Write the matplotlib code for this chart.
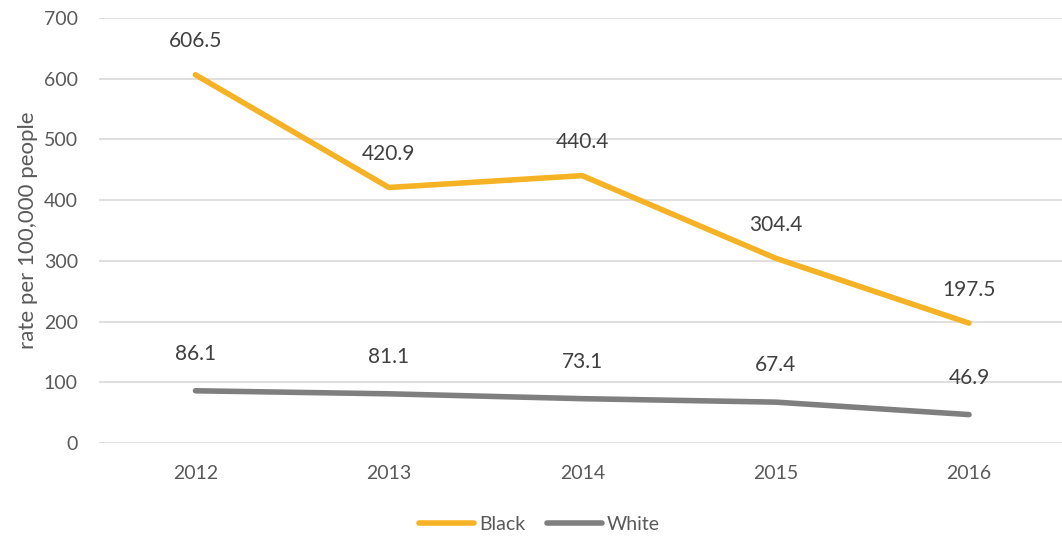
import matplotlib
matplotlib.use("Agg")
import matplotlib.pyplot as plt

years = ["2012", "2013", "2014", "2015", "2016"]
black = [606.5, 420.9, 440.4, 304.4, 197.5]
white = [86.1, 81.1, 73.1, 67.4, 46.9]
black_labels = ["606.5", "420.9", "440.4", "304.4", "197.5"]
white_labels = ["86.1", "81.1", "73.1", "67.4", "46.9"]

plt.rcParams['font.family'] = ['Lato', 'DejaVu Sans']
txt = '#595959'

fig = plt.figure(figsize=(10.62, 5.39), dpi=100)
ax = fig.add_axes([0.093, 0.178, 0.9105, 0.7886])

x = list(range(len(years)))
ax.plot(x, black, color='#F6B225', lw=4, solid_capstyle='round', label='Black', zorder=3)
ax.plot(x, white, color='#7F7F7F', lw=4, solid_capstyle='round', label='White', zorder=3)

for xi, v, s in zip(x, black, black_labels):
    ax.annotate(s, (xi, v), xytext=(0, 24), textcoords='offset points', ha='center', va='center',
                fontsize=15, color='#404040')
for xi, v, s in zip(x, white, white_labels):
    ax.annotate(s, (xi, v), xytext=(0, 26.5), textcoords='offset points', ha='center', va='center',
                fontsize=15, color='#404040')

ax.set_xlim(-0.5, 4.5)
ax.set_ylim(0, 700)
ax.set_yticks(range(0, 701, 100))
ax.set_xticks(x)
ax.set_xticklabels(years)
ax.grid(axis='y', color='#D9D9D9', lw=1.2)
ax.set_axisbelow(True)
for sp in ax.spines.values():
    sp.set_visible(False)
ax.tick_params(axis='both', length=0, labelsize=14, colors=txt)
ax.tick_params(axis='y', pad=15)
ax.tick_params(axis='x', pad=16)
ax.set_ylabel('rate per 100,000 people', fontsize=16, color=txt, labelpad=4)

leg = fig.legend(loc='center', bbox_to_anchor=(0.508, 1 - 524 / 539), ncol=2, frameon=False,
                 fontsize=14, handlelength=2.85, handletextpad=0.25, columnspacing=1.1)
for t in leg.get_texts():
    t.set_color(txt)

fig.savefig('out.png', dpi=100)
